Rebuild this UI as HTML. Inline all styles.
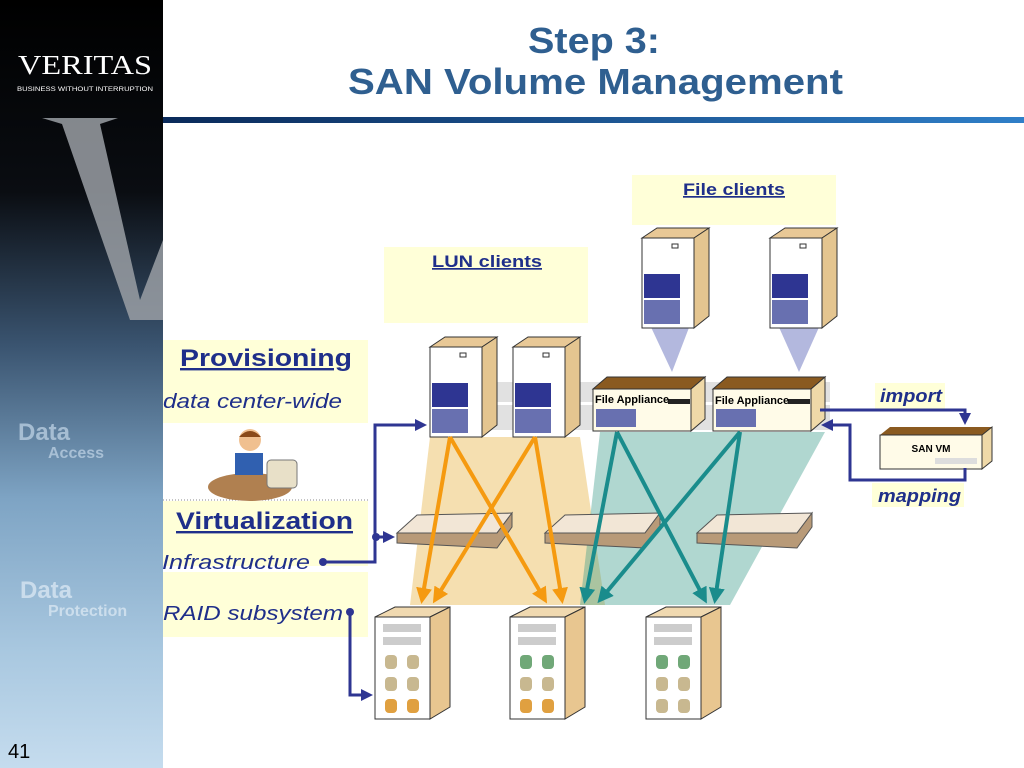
<!DOCTYPE html>
<html><head><meta charset="utf-8"><style>
html,body{margin:0;padding:0;width:1024px;height:768px;overflow:hidden;background:#fff}
svg{display:block}
</style></head><body>
<svg width="1024" height="768" viewBox="0 0 1024 768" xmlns="http://www.w3.org/2000/svg" font-family="Liberation Sans, Arial, sans-serif">
<defs>
<linearGradient id="side" x1="0" y1="0" x2="0" y2="1">
<stop offset="0" stop-color="#000"/><stop offset="0.25" stop-color="#0a0d12"/><stop offset="0.45" stop-color="#3a5470"/><stop offset="0.65" stop-color="#7ea4c4"/><stop offset="0.85" stop-color="#a9c8e0"/><stop offset="1" stop-color="#c5dcee"/>
</linearGradient>
<linearGradient id="bar" x1="0" x2="1"><stop offset="0" stop-color="#0a2a5a"/><stop offset="1" stop-color="#2f7fc8"/></linearGradient>
<marker id="ao" markerWidth="4" markerHeight="4" refX="3" refY="2" orient="auto"><path d="M0,0 L4,2 L0,4z" fill="#f59a10"/></marker>
<marker id="at" markerWidth="4" markerHeight="4" refX="3" refY="2" orient="auto"><path d="M0,0 L4,2 L0,4z" fill="#1a8c8c"/></marker>
<marker id="ab" markerWidth="4" markerHeight="4" refX="3" refY="2" orient="auto"><path d="M0,0 L4,2 L0,4z" fill="#2e3592"/></marker>
<g id="tower">
<polygon points="0,10 15,0 67,0 52,10" fill="#e8c896" stroke="#333"/>
<polygon points="52,10 67,0 67,88 52,100" fill="#e4c590" stroke="#333"/>
<rect x="0" y="10" width="52" height="90" fill="#fff" stroke="#333"/>
<rect x="2" y="46" width="36" height="24" fill="#2e3592"/>
<rect x="2" y="72" width="36" height="24" fill="#6870b0"/>
<rect x="30" y="16" width="6" height="4" fill="none" stroke="#333"/>
</g>
<g id="appl">
<polygon points="0,12 14,0 112,0 98,12" fill="#8a5a20" stroke="#333"/>
<polygon points="98,12 112,0 112,42 98,54" fill="#efd9a8" stroke="#333"/>
<rect x="0" y="12" width="98" height="42" fill="#fffbe8" stroke="#333"/>
<rect x="3" y="32" width="40" height="18" fill="#6870b0"/>
<rect x="75" y="22" width="22" height="5" fill="#222"/>
</g>
<g id="sw">
<polygon points="0,20 20,2 115,0 100,20" fill="#f2e6d6" stroke="#555"/>
<polygon points="0,20 100,20 115,0 115,14 100,35 0,30" fill="#b89a78" stroke="#555"/>
</g>
<g id="stor">
<polygon points="0,10 20,0 75,0 55,10" fill="#f0d9b0" stroke="#333"/>
<polygon points="55,10 75,0 75,100 55,112" fill="#e8c690" stroke="#333"/>
<rect x="0" y="10" width="55" height="102" fill="#fff" stroke="#333"/>
<rect x="8" y="17" width="38" height="8" fill="#ccc"/><rect x="8" y="30" width="38" height="8" fill="#ccc"/>
<rect x="10" y="70" width="12" height="14" rx="4" fill="#c8b890"/><rect x="32" y="70" width="12" height="14" rx="4" fill="#c8b890"/>
</g>
</defs>
<rect x="0" y="0" width="163" height="768" fill="url(#side)"/>
<text x="85" y="74" font-family="Liberation Serif, serif" font-size="27" fill="#fff" text-anchor="middle" textLength="134" lengthAdjust="spacingAndGlyphs">VERITAS</text>
<text x="85" y="91" font-size="6" fill="#fff" text-anchor="middle" textLength="136" lengthAdjust="spacingAndGlyphs">BUSINESS WITHOUT INTERRUPTION</text>
<polygon points="42,118 118,118 100,124 140,300 163,240 163,320 130,320 62,124" fill="#9a9fa5" opacity="0.85"/>
<text x="18" y="440" font-size="24" font-weight="bold" fill="#b8cde0" opacity="0.8">Data</text>
<text x="48" y="458" font-size="16" font-weight="bold" fill="#b8cde0" opacity="0.8">Access</text>
<text x="20" y="598" font-size="24" font-weight="bold" fill="#d8e6f2" opacity="0.8">Data</text>
<text x="48" y="616" font-size="16" font-weight="bold" fill="#d8e6f2" opacity="0.8">Protection</text>
<text x="8" y="758" font-size="20" fill="#000">41</text>
<rect x="163" y="117" width="861" height="6" fill="url(#bar)"/>
<text x="528" y="53" font-size="36" font-weight="bold" fill="#2f5f90" textLength="132" lengthAdjust="spacingAndGlyphs">Step 3:</text>
<text x="348" y="94" font-size="36" font-weight="bold" fill="#2f5f90" textLength="495" lengthAdjust="spacingAndGlyphs">SAN Volume Management</text>
<rect x="632" y="175" width="204" height="50" fill="#ffffd8"/>
<text x="683" y="195" font-size="17" font-weight="bold" fill="#1f2f8a" text-decoration="underline" textLength="102" lengthAdjust="spacingAndGlyphs">File clients</text>
<rect x="384" y="247" width="204" height="76" fill="#ffffd8"/>
<text x="432" y="267" font-size="17" font-weight="bold" fill="#1f2f8a" text-decoration="underline" textLength="110" lengthAdjust="spacingAndGlyphs">LUN clients</text>
<rect x="163" y="340" width="205" height="83" fill="#ffffd8"/>
<text x="180" y="366" font-size="24" font-weight="bold" fill="#1f2f8a" text-decoration="underline" textLength="172" lengthAdjust="spacingAndGlyphs">Provisioning</text>
<text x="163" y="408" font-size="20" font-style="italic" fill="#1f2f8a" textLength="179" lengthAdjust="spacingAndGlyphs">data center-wide</text>
<line x1="163" y1="500" x2="368" y2="500" stroke="#888" stroke-dasharray="1,2"/>
<rect x="163" y="501" width="205" height="65" fill="#ffffd8"/>
<rect x="163" y="572" width="205" height="65" fill="#ffffd8"/>
<text x="176" y="529" font-size="24" font-weight="bold" fill="#1f2f8a" text-decoration="underline" textLength="177" lengthAdjust="spacingAndGlyphs">Virtualization</text>
<text x="162" y="569" font-size="20" font-style="italic" fill="#1f2f8a" textLength="148" lengthAdjust="spacingAndGlyphs">Infrastructure</text>
<text x="163" y="620" font-size="20" font-style="italic" fill="#1f2f8a" textLength="180" lengthAdjust="spacingAndGlyphs">RAID subsystem</text>
<g transform="translate(205,425)">
<ellipse cx="45" cy="62" rx="42" ry="14" fill="#b08050"/>
<circle cx="45" cy="15" r="11" fill="#f0c090"/><path d="M34,12 Q45,0 56,12" fill="#8a4a1a"/>
<rect x="30" y="28" width="28" height="22" fill="#3060b0"/>
<rect x="62" y="35" width="30" height="28" rx="4" fill="#e8e0c8" stroke="#777"/>
</g>
<rect x="875" y="383" width="70" height="26" fill="#ffffd8"/>
<text x="880" y="402" font-size="18" font-weight="bold" font-style="italic" fill="#1f2f8a" textLength="62" lengthAdjust="spacingAndGlyphs">import</text>
<rect x="872" y="483" width="92" height="24" fill="#ffffd8"/>
<text x="878" y="502" font-size="18" font-weight="bold" font-style="italic" fill="#1f2f8a" textLength="83" lengthAdjust="spacingAndGlyphs">mapping</text>
<polygon points="430,437 580,437 605,605 410,605" fill="#e8b850" opacity="0.45"/>
<polygon points="600,432 825,432 730,605 580,605" fill="#3a9a8a" opacity="0.4"/>
<polygon points="650,325 690,325 672,372" fill="#8088c8" opacity="0.6"/>
<polygon points="778,325 820,325 799,372" fill="#8088c8" opacity="0.6"/>
<rect x="430" y="382" width="400" height="20" fill="#aaa" opacity="0.35"/>
<rect x="430" y="405" width="400" height="25" fill="#aaa" opacity="0.35"/>
<use href="#tower" x="642" y="228"/><use href="#tower" x="770" y="228"/>
<use href="#tower" x="430" y="337"/><use href="#tower" x="513" y="337"/>
<use href="#appl" x="593" y="377"/><use href="#appl" x="713" y="377"/>
<text x="595" y="403" font-size="11" font-weight="bold">File Appliance</text>
<text x="715" y="404" font-size="11" font-weight="bold">File Appliance</text>
<use href="#sw" x="397" y="513"/><use href="#sw" x="545" y="513"/><use href="#sw" x="697" y="513"/>
<g stroke="#f59a10" stroke-width="4" marker-end="url(#ao)">
<line x1="450" y1="437" x2="422" y2="600"/><line x1="450" y1="437" x2="545" y2="600"/>
<line x1="535" y1="437" x2="435" y2="600"/><line x1="535" y1="437" x2="562" y2="600"/>
</g>
<g stroke="#1a8c8c" stroke-width="4" marker-end="url(#at)">
<line x1="617" y1="432" x2="585" y2="600"/><line x1="617" y1="432" x2="705" y2="600"/>
<line x1="740" y1="432" x2="600" y2="600"/><line x1="740" y1="432" x2="715" y2="600"/>
</g>
<use href="#stor" x="375" y="607"/><use href="#stor" x="510" y="607"/><use href="#stor" x="646" y="607"/>
<g>
<rect x="385" y="655" width="12" height="14" rx="4" fill="#c8b890"/><rect x="407" y="655" width="12" height="14" rx="4" fill="#c8b890"/>
<rect x="385" y="699" width="12" height="14" rx="4" fill="#e0a040"/><rect x="407" y="699" width="12" height="14" rx="4" fill="#e0a040"/>
<rect x="520" y="655" width="12" height="14" rx="4" fill="#70a878"/><rect x="542" y="655" width="12" height="14" rx="4" fill="#70a878"/>
<rect x="520" y="699" width="12" height="14" rx="4" fill="#e0a040"/><rect x="542" y="699" width="12" height="14" rx="4" fill="#e0a040"/>
<rect x="656" y="655" width="12" height="14" rx="4" fill="#70a878"/><rect x="678" y="655" width="12" height="14" rx="4" fill="#70a878"/>
<rect x="656" y="699" width="12" height="14" rx="4" fill="#c8b890"/><rect x="678" y="699" width="12" height="14" rx="4" fill="#c8b890"/>
</g>
<g transform="translate(880,427)">
<polygon points="0,8 10,0 112,0 102,8" fill="#8a5a20"/>
<polygon points="102,8 112,0 112,34 102,42" fill="#efd9a8" stroke="#333"/>
<rect x="0" y="8" width="102" height="34" fill="#fffbe8" stroke="#333"/>
<text x="51" y="25" font-size="10" font-weight="bold" text-anchor="middle">SAN VM</text>
<rect x="55" y="31" width="42" height="6" fill="#ddd"/>
</g>
<g fill="none" stroke="#2e3592" stroke-width="3">
<polyline points="323,562 375,562 375,425 424,425" marker-end="url(#ab)"/>
<line x1="375" y1="537" x2="392" y2="537" marker-end="url(#ab)"/>
<polyline points="350,612 350,695 370,695" marker-end="url(#ab)"/>
<polyline points="820,410 965,410 965,422" marker-end="url(#ab)"/>
<polyline points="965,468 965,480 850,480 850,425 824,425" marker-end="url(#ab)"/>
</g>
<circle cx="323" cy="562" r="4" fill="#2e3592"/><circle cx="350" cy="612" r="4" fill="#2e3592"/><circle cx="376" cy="537" r="4" fill="#2e3592"/>
</svg>
</body></html>
